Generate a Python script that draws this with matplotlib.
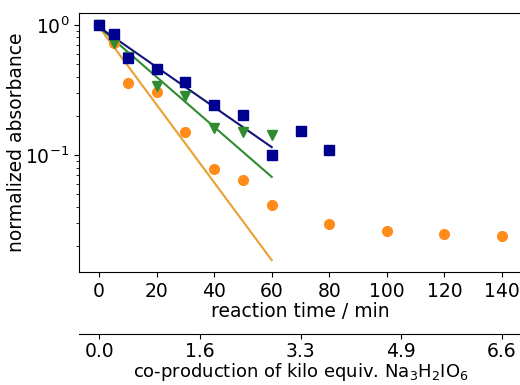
import matplotlib.pyplot as plt
import numpy as np

# measured data (normalized absorbance vs reaction time)
t_blue = [0, 5, 10, 20, 30, 40, 50, 60, 70, 80]
a_blue = [1.0, 0.853, 0.557, 0.459, 0.364, 0.242, 0.203, 0.100, 0.153, 0.109]

t_green = [0, 5, 10, 20, 30, 40, 50, 60]
a_green = [1.0, 0.73, 0.57, 0.339, 0.284, 0.161, 0.150, 0.142]

t_orange = [0, 5, 10, 20, 30, 40, 50, 60, 80, 100, 120, 140]
a_orange = [1.0, 0.727, 0.358, 0.305, 0.150, 0.078, 0.064, 0.0413, 0.0294, 0.0261, 0.0247, 0.0239]

# first-order fits, endpoints of the fit lines
t_fit = [0, 60]
fit_blue = [0.96, 0.115]
fit_green = [0.96, 0.068]
fit_orange = [0.96, 0.0156]

# secondary axis ticks
sec_ticks = [0, 35, 70, 105, 140]
sec_labels = ['0.0', '1.6', '3.3', '4.9', '6.6']

plt.rcParams['font.size'] = 13.5

fig = plt.figure(figsize=(5.2, 3.85), dpi=100)
ax = fig.add_axes([79 / 520, 1 - 272 / 385, 443 / 520, (272 - 13) / 385])

ax.plot(t_fit, fit_orange, color='#e8a030', lw=1.5)
ax.plot(t_fit, fit_green, color='#2e8b2e', lw=1.5)
ax.plot(t_fit, fit_blue, color='#10137a', lw=1.5)

ax.plot(t_orange, a_orange, 'o', color='#ff8c1a', ms=7, ls='none')
ax.plot(t_green, a_green, 'v', color='#2e8b2e', ms=7, ls='none')
ax.plot(t_blue, a_blue, 's', color='#000090', ms=7.5, ls='none')

ax.set_yscale('log')
ax.set_xticks([0, 20, 40, 60, 80, 100, 120, 140])
ax.set_xlabel('reaction time / min', labelpad=1)
ax.set_ylabel('normalized absorbance', labelpad=-1)

sec = ax.secondary_xaxis(-0.24)
sec.set_xticks(sec_ticks)
sec.set_xticklabels(sec_labels)
sec.tick_params(axis='x', pad=2)
sec.set_xlabel('co-production of kilo equiv. Na$_3$H$_2$IO$_6$', labelpad=0, fontsize=13)

plt.savefig('out.png', dpi=100)
